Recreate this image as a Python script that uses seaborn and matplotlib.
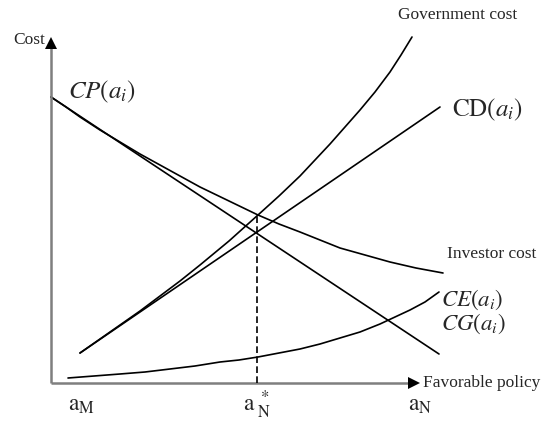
import matplotlib
matplotlib.use("Agg")
import matplotlib.pyplot as plt
import seaborn as sns
import pandas as pd

# ---- data (conceptual curves) ----
investor_x = [0, 15, 29, 49, 69, 89, 109, 129, 149, 178, 207, 228, 249, 269, 289, 314, 339, 365, 392]
investor_y = [286, 276, 266, 253, 241, 229, 218, 207, 196, 182, 168, 159, 151, 143, 135, 128, 121, 115, 110]

cp_x = [0, 388]
cp_y = [286, 29]

cd_x = [29, 389]
cd_y = [30, 276]

gov_x = [29, 49, 69, 89, 109, 129, 149, 178, 207, 228, 249, 264, 279, 294, 309, 324, 339, 350, 361]
gov_y = [30, 44, 58, 72, 87, 102, 118, 142, 168, 187, 207, 223, 239, 256, 273, 291, 311, 328, 346]

ceg_x = [17, 43, 69, 94, 119, 144, 169, 188, 207, 228, 249, 269, 289, 309, 329, 344, 359, 374, 388]
ceg_y = [5, 7, 9, 11, 14, 17, 21, 23, 26, 30, 34, 39, 45, 51, 59, 66, 73, 81, 91]

a_star_x = 206
a_star_y = 168
tick_pos = [31, 206, 369]
tick_labels = [r"$\mathrm{a}_{\mathrm{M}}$", r"$\mathrm{a}_{\ \mathrm{N}}^{\ *}$", r"$\mathrm{a}_{\mathrm{N}}$"]

sns.set_theme(style="white")
plt.rcParams["font.family"] = ["Liberation Serif", "DejaVu Serif"]
plt.rcParams["mathtext.fontset"] = "stix"

fig = plt.figure(figsize=(5.43, 4.25), dpi=100)
ax = fig.add_axes([0, 0, 1, 1])
ax.set_xlim(-51, 492)
ax.set_ylim(-42, 383)
ax.axis("off")

curves = [
    ("investor", investor_x, investor_y),
    ("cp", cp_x, cp_y),
    ("cd", cd_x, cd_y),
    ("gov", gov_x, gov_y),
    ("ceg", ceg_x, ceg_y),
]
for name, xs, ys in curves:
    df = pd.DataFrame({"x": xs, "y": ys})
    sns.lineplot(data=df, x="x", y="y", ax=ax, color="black", lw=1.2,
                 sort=False, estimator=None, legend=False)

# axes with arrows
ax.plot([0, 0], [0, 336], color="#7f7f7f", lw=1.8, solid_capstyle="butt")
ax.plot([0, 359], [0, 0], color="#7f7f7f", lw=1.8, solid_capstyle="butt")
ax.plot(0, 340, marker="^", ms=9, color="black", markeredgewidth=0)
ax.plot(363, 0, marker=">", ms=9, color="black", markeredgewidth=0)

# dashed line at a*_N
ax.plot([a_star_x, a_star_x], [0, a_star_y], color="black", lw=1.2,
        ls=(0, (4, 2)))

# labels
ax.text(-6, 343, "Cost", ha="right", va="center", fontsize=12.5)
ax.text(372, 0, "Favorable policy", ha="left", va="center", fontsize=12.5)
ax.text(347, 368, "Government cost", ha="left", va="center", fontsize=12.5)
ax.text(396, 129, "Investor cost", ha="left", va="center", fontsize=12.5)
ax.text(17, 291, r"$CP(a_i)$", ha="left", va="center", fontsize=18)
ax.text(401, 273, r"$\mathrm{CD}(a_i)$", ha="left", va="center", fontsize=18)
ax.text(390, 83, r"$CE(a_i)$", ha="left", va="center", fontsize=16.5)
ax.text(390, 59, r"$CG(a_i)$", ha="left", va="center", fontsize=16.5)

for xp, lab in zip(tick_pos, tick_labels):
    ax.text(xp, -22, lab, ha="center", va="center", fontsize=17)

fig.savefig("out.png", dpi=100)
